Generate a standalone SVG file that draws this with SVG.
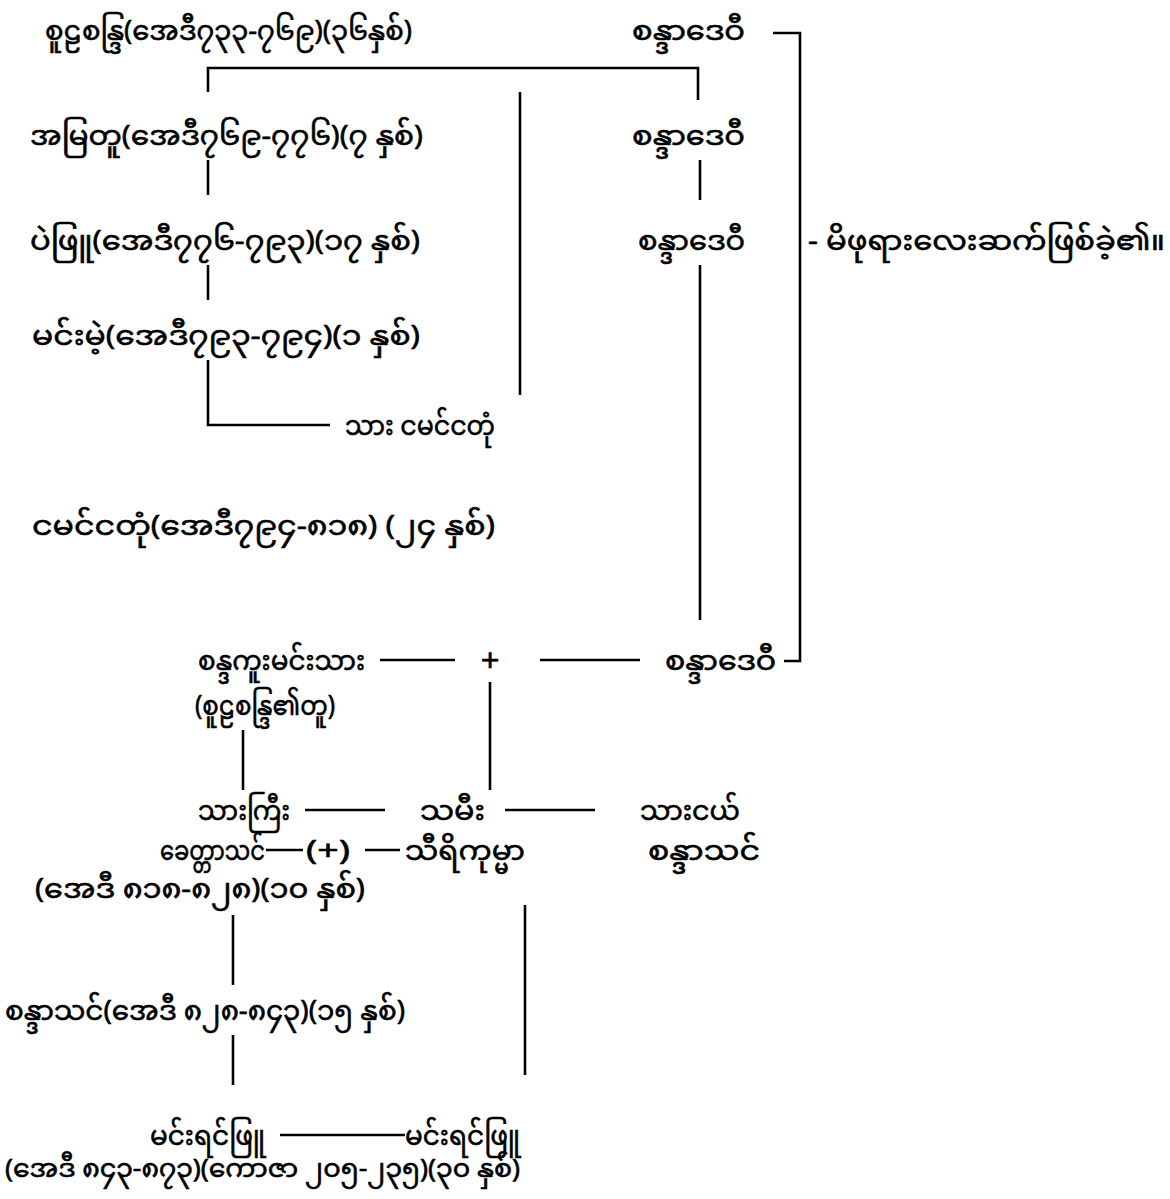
<svg xmlns="http://www.w3.org/2000/svg" width="1170" height="1199" viewBox="0 0 1170 1199">
<style>
text{font-family:"Noto Sans Myanmar","Padauk","Myanmar Text","Noto Sans",sans-serif;font-size:28px;fill:#000;stroke:#000;stroke-width:0.6}
.plus{font-family:"Liberation Sans",sans-serif;font-size:32px}
.last{font-size:25px}
.c line,.c path{stroke:#000;stroke-width:2.6;fill:none}
</style>
<rect width="1170" height="1199" fill="#fff"/>
<g class="c" id="connectors">
<path d="M208,92 V68 H698 V100"/>
<path d="M208,160 V195"/>
<path d="M700,160 V200"/>
<path d="M520,92 V395"/>
<path d="M208,265 V300"/>
<path d="M700,265 V620"/>
<path d="M208,360 V425 H330"/>
<path d="M773,33 H800 V661 H784"/>
<line x1="380" y1="660" x2="455" y2="660"/>
<line x1="540" y1="660" x2="640" y2="660"/>
<line x1="490" y1="682" x2="490" y2="790"/>
<line x1="243" y1="730" x2="243" y2="790"/>
<line x1="305" y1="810" x2="385" y2="810"/>
<line x1="505" y1="810" x2="595" y2="810"/>
<line x1="266" y1="850" x2="303" y2="850"/>
<line x1="365" y1="850" x2="400" y2="850"/>
<line x1="233" y1="915" x2="233" y2="985"/>
<line x1="525" y1="905" x2="525" y2="1075"/>
<line x1="233" y1="1035" x2="233" y2="1085"/>
<line x1="280" y1="1135" x2="405" y2="1135"/>
</g>
<g id="n1"><text x="45" y="40" textLength="367" lengthAdjust="spacingAndGlyphs">စူဠစန္ဒြ(အေဒီ၇၃၃-၇၆၉)(၃၆နှစ်)</text></g>
<g id="n2"><text x="632" y="40" textLength="113" lengthAdjust="spacingAndGlyphs">စန္ဒာဒေဝီ</text></g>
<g id="n3"><text x="30" y="145" textLength="393" lengthAdjust="spacingAndGlyphs">အမြတူ(အေဒီ၇၆၉-၇၇၆)(၇ နှစ်)</text></g>
<g id="n4"><text x="632" y="145" textLength="113" lengthAdjust="spacingAndGlyphs">စန္ဒာဒေဝီ</text></g>
<g id="n5"><text x="30" y="250" textLength="390" lengthAdjust="spacingAndGlyphs">ပဲဖြူ(အေဒီ၇၇၆-၇၉၃)(၁၇ နှစ်)</text></g>
<g id="n6"><text x="638" y="250" textLength="107" lengthAdjust="spacingAndGlyphs">စန္ဒာဒေဝီ</text></g>
<g id="n7"><text x="808" y="250" textLength="357" lengthAdjust="spacingAndGlyphs">- မိဖုရားလေးဆက်ဖြစ်ခဲ့၏။</text></g>
<g id="n8"><text x="32" y="345" textLength="388" lengthAdjust="spacingAndGlyphs">မင်းမဲ့(အေဒီ၇၉၃-၇၉၄)(၁ နှစ်)</text></g>
<g id="n9"><text x="345" y="435" textLength="150" lengthAdjust="spacingAndGlyphs">သား ငမင်ငတုံ</text></g>
<g id="n10"><text x="32" y="535" textLength="463" lengthAdjust="spacingAndGlyphs">ငမင်ငတုံ(အေဒီ၇၉၄-၈၁၈) (၂၄ နှစ်)</text></g>
<g id="n11"><text x="198" y="670" textLength="167" lengthAdjust="spacingAndGlyphs">စန္ဒကူးမင်းသား</text><text x="195" y="715" textLength="140" lengthAdjust="spacingAndGlyphs">(စူဠစန္ဒြ၏တူ)</text></g>
<g id="n12"><text class="plus" x="490" y="671" text-anchor="middle">+</text></g>
<g id="n13"><text x="665" y="670" textLength="111" lengthAdjust="spacingAndGlyphs">စန္ဒာဒေဝီ</text></g>
<g id="n14"><text x="198" y="820" textLength="92" lengthAdjust="spacingAndGlyphs">သားကြီး</text></g>
<g id="n15"><text x="420" y="820" textLength="65" lengthAdjust="spacingAndGlyphs">သမီး</text></g>
<g id="n16"><text x="640" y="820" textLength="100" lengthAdjust="spacingAndGlyphs">သားငယ်</text></g>
<g id="n17"><text x="160" y="860" textLength="105" lengthAdjust="spacingAndGlyphs">ခေတ္တာသင်</text><text x="35" y="898" textLength="330" lengthAdjust="spacingAndGlyphs">(အေဒီ ၈၁၈-၈၂၈)(၁၀ နှစ်)</text></g>
<g id="n18"><text x="306" y="860" textLength="44" lengthAdjust="spacingAndGlyphs">(+)</text></g>
<g id="n19"><text x="405" y="860" textLength="120" lengthAdjust="spacingAndGlyphs">သီရိကုမ္မာ</text></g>
<g id="n20"><text x="648" y="860" textLength="112" lengthAdjust="spacingAndGlyphs">စန္ဒာသင်</text></g>
<g id="n21"><text x="5" y="1020" textLength="400" lengthAdjust="spacingAndGlyphs">စန္ဒာသင်(အေဒီ ၈၂၈-၈၄၃)(၁၅ နှစ်)</text></g>
<g id="n22"><text x="150" y="1145" textLength="115" lengthAdjust="spacingAndGlyphs">မင်းရင်ဖြူ</text><text class="last" x="5" y="1177" textLength="515" lengthAdjust="spacingAndGlyphs">(အေဒီ ၈၄၃-၈၇၃)(ကောဇာ ၂၀၅-၂၃၅)(၃၀ နှစ်)</text></g>
<g id="n23"><text x="405" y="1145" textLength="115" lengthAdjust="spacingAndGlyphs">မင်းရင်ဖြူ</text></g>
</svg>
